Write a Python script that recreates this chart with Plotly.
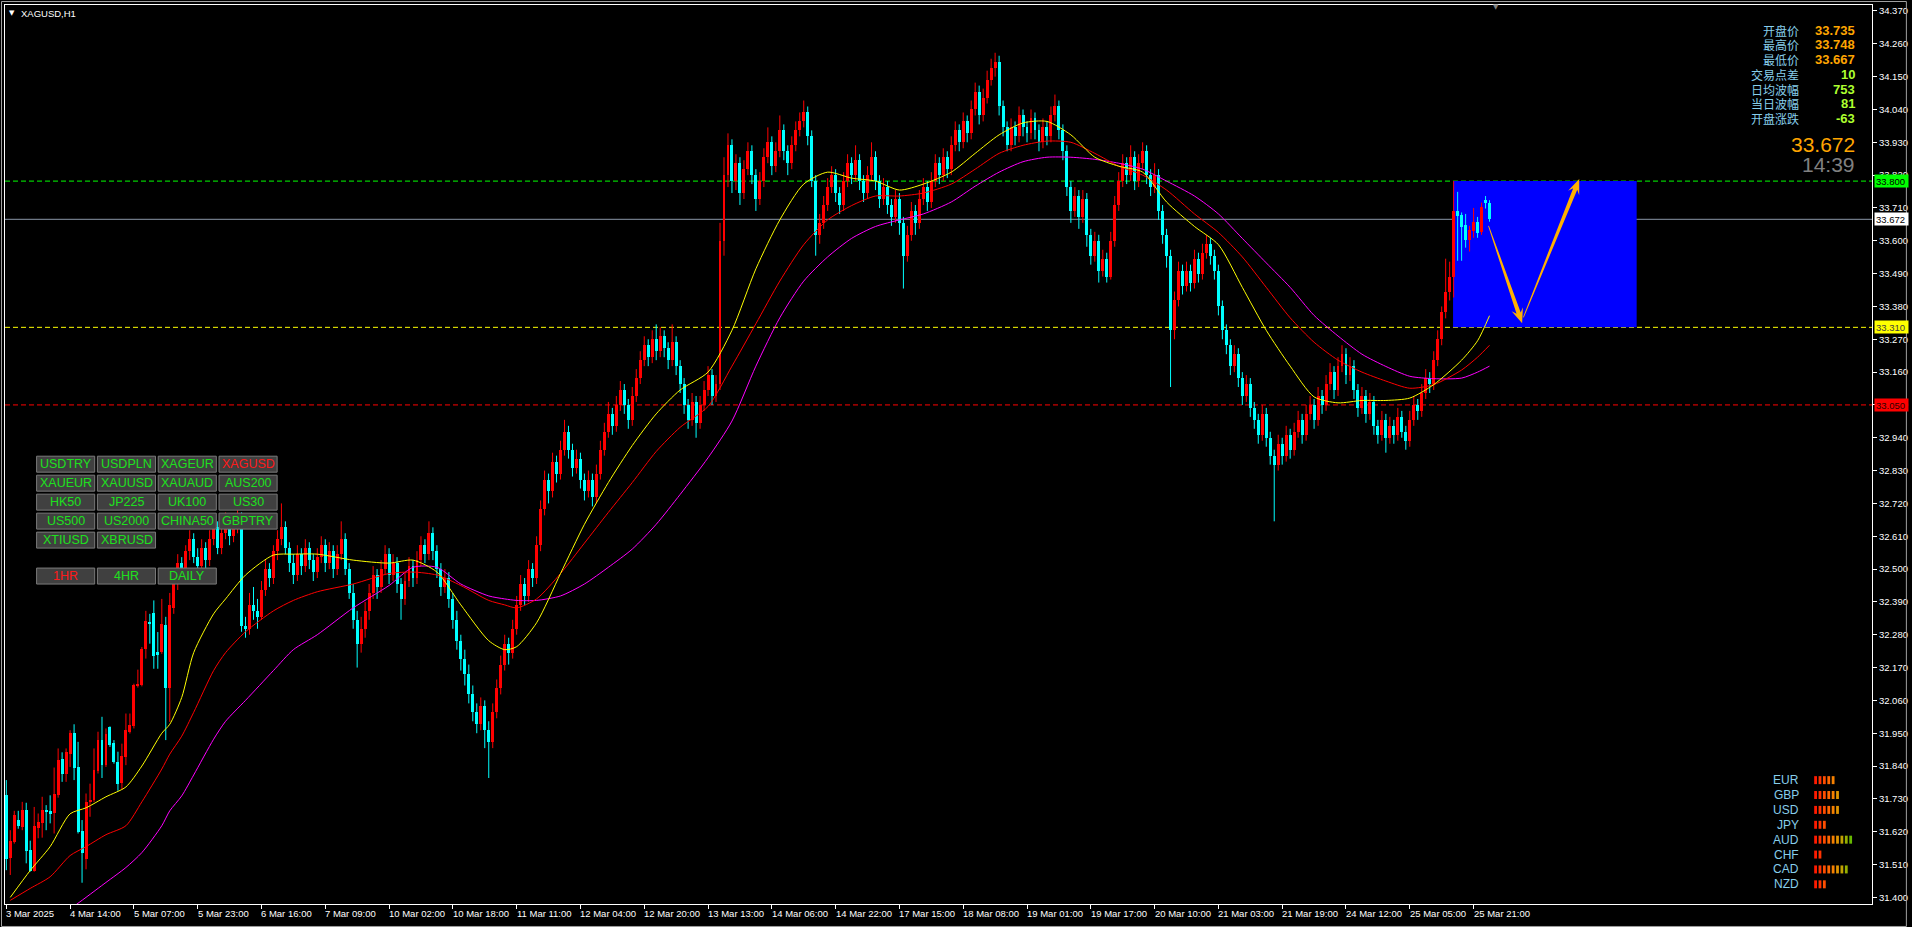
import math
import plotly.graph_objects as go

# ---------------- data ----------------
chart_title = "XAGUSD,H1"

x_tick_bars = [0, 16, 32, 48, 64, 80, 96, 112, 128, 144, 160, 176, 192, 208, 224, 240,
               256, 272, 288, 304, 320, 336, 352, 368]
x_tick_labels = ["3 Mar 2025", "4 Mar 14:00", "5 Mar 07:00", "5 Mar 23:00", "6 Mar 16:00",
                 "7 Mar 09:00", "10 Mar 02:00", "10 Mar 18:00", "11 Mar 11:00", "12 Mar 04:00",
                 "12 Mar 20:00", "13 Mar 13:00", "14 Mar 06:00", "14 Mar 22:00", "17 Mar 15:00",
                 "18 Mar 08:00", "19 Mar 01:00", "19 Mar 17:00", "20 Mar 10:00", "21 Mar 03:00",
                 "21 Mar 19:00", "24 Mar 12:00", "25 Mar 05:00", "25 Mar 21:00"]

y_tick_labels = ["31.400", "31.510", "31.620", "31.730", "31.840", "31.950", "32.060", "32.170",
                 "32.280", "32.390", "32.500", "32.610", "32.720", "32.830", "32.940", "33.050",
                 "33.160", "33.270", "33.380", "33.490", "33.600", "33.710", "33.820", "33.930",
                 "34.040", "34.150", "34.260", "34.370"]

opens = [
    31.742, 31.533, 31.586, 31.659, 31.636, 31.692, 31.558, 31.489, 31.631, 31.648,
    31.692, 31.690, 31.683, 31.742, 31.863, 31.815, 31.882, 31.951, 31.837, 31.623,
    31.530, 31.720, 31.726, 31.824, 31.927, 31.843, 31.971, 31.918, 31.854, 31.784,
    31.871, 31.955, 31.973, 32.107, 32.111, 32.233, 32.323, 32.353, 32.222, 32.222,
    32.311, 32.103, 32.37, 32.46, 32.52, 32.48, 32.56, 32.60, 32.54, 32.51,
    32.57, 32.53, 32.60, 32.64, 32.57, 32.62, 32.66, 32.61, 32.65, 32.66,
    32.31, 32.30, 32.38, 32.36, 32.34, 32.43, 32.50, 32.47, 32.56, 32.60,
    32.64, 32.57, 32.52, 32.48, 32.55, 32.51, 32.57, 32.53, 32.49, 32.54,
    32.58, 32.52, 32.56, 32.50, 32.55, 32.60, 32.50, 32.42, 32.33, 32.25,
    32.30, 32.36, 32.42, 32.48, 32.44, 32.50, 32.55, 32.48, 32.52, 32.45,
    32.40, 32.46, 32.51, 32.47, 32.53, 32.58, 32.55, 32.62, 32.56, 32.50,
    32.44, 32.47, 32.40, 32.33, 32.26, 32.20, 32.15, 32.08, 32.02, 31.98,
    32.04, 31.96, 31.92, 32.02, 32.10, 32.18, 32.25, 32.22, 32.30, 32.38,
    32.45, 32.41, 32.50, 32.47, 32.58, 32.70, 32.80, 32.76, 32.86, 32.82,
    32.90, 32.96, 32.90, 32.84, 32.87, 32.80, 32.76, 32.80, 32.74, 32.82,
    32.90, 32.96, 33.02, 32.98, 33.05, 33.10, 33.05, 33.00, 33.08, 33.14,
    33.20, 33.25, 33.21, 33.27, 33.23, 33.28, 33.24, 33.20, 33.26, 33.18,
    33.12, 33.05, 33.00, 33.06, 32.99, 33.05, 33.10, 33.15, 33.08, 33.12,
    33.60, 33.82, 33.92, 33.80, 33.86, 33.76, 33.84, 33.90, 33.82, 33.74,
    33.80, 33.88, 33.93, 33.85, 33.90, 33.97, 33.90, 33.86, 33.92, 33.97,
    34.00, 34.03, 33.95, 33.80, 33.62, 33.66, 33.72, 33.78, 33.82, 33.76,
    33.72, 33.80, 33.86, 33.82, 33.87, 33.80, 33.76, 33.82, 33.88, 33.80,
    33.74, 33.78, 33.72, 33.68, 33.74, 33.66, 33.55, 33.62, 33.70, 33.66,
    33.74, 33.78, 33.73, 33.80, 33.86, 33.82, 33.88, 33.84, 33.92, 33.97,
    33.93, 34.00, 33.96, 34.04, 34.10, 34.02, 34.08, 34.14, 34.18, 34.20,
    34.05, 33.98, 33.92, 33.98, 33.95, 34.02, 33.98, 33.96, 34.01, 33.97,
    33.93, 33.98, 33.95, 34.02, 34.05, 33.97, 33.90, 33.78, 33.70, 33.75,
    33.68, 33.74, 33.62, 33.55, 33.60, 33.50, 33.54, 33.48, 33.60, 33.72,
    33.80, 33.86, 33.82, 33.88, 33.80, 33.86, 33.90, 33.82, 33.78, 33.82,
    33.70, 33.62, 33.55, 33.30, 33.40, 33.50, 33.45, 33.50, 33.46, 33.54,
    33.49, 33.56, 33.59, 33.55, 33.50, 33.38, 33.30, 33.25, 33.18, 33.22,
    33.14, 33.08, 33.12, 33.04, 33.00, 32.95, 33.02, 32.94, 32.88, 32.85,
    32.92, 32.88, 32.95, 32.90, 32.96, 33.00, 32.95, 33.02, 33.05, 33.00,
    33.08, 33.05, 33.12, 33.16, 33.10, 33.18, 33.22, 33.15, 33.18, 33.10,
    33.04, 33.08, 33.02, 33.06, 32.98, 32.95, 33.00, 32.94, 32.98, 32.95,
    33.01, 32.96, 32.93, 33.00, 33.05, 33.03, 33.09, 33.14, 33.12, 33.20,
    33.27, 33.36, 33.43, 33.48, 33.70, 33.687, 33.653, 33.604, 33.634, 33.664,
    33.628, 33.736, 33.727]

highs = [
    31.793, 31.625, 31.690, 31.690, 31.720, 31.717, 31.590, 31.703, 31.681, 31.737,
    31.709, 31.742, 31.835, 31.899, 31.886, 31.899, 31.960, 31.980, 31.921, 31.659,
    31.748, 31.781, 31.899, 31.955, 32.005, 31.966, 31.973, 31.927, 31.888, 31.915,
    32.016, 32.016, 32.116, 32.163, 32.239, 32.360, 32.350, 32.395, 32.289, 32.400,
    32.340, 32.420, 32.48, 32.55, 32.54, 32.58, 32.63, 32.62, 32.57, 32.60,
    32.59, 32.63, 32.67, 32.66, 32.64, 32.69, 32.68, 32.67, 32.71, 32.69,
    32.34, 32.42, 32.44, 32.40, 32.46, 32.53, 32.52, 32.58, 32.63, 32.72,
    32.66, 32.59, 32.55, 32.58, 32.57, 32.60, 32.59, 32.55, 32.57, 32.61,
    32.60, 32.59, 32.58, 32.58, 32.66, 32.62, 32.52, 32.45, 32.36, 32.34,
    32.39, 32.45, 32.51, 32.50, 32.53, 32.58, 32.57, 32.55, 32.54, 32.47,
    32.49, 32.54, 32.53, 32.56, 32.61, 32.60, 32.66, 32.64, 32.58, 32.52,
    32.50, 32.49, 32.42, 32.36, 32.28, 32.23, 32.18, 32.11, 32.05, 32.07,
    32.06, 31.99, 32.05, 32.13, 32.21, 32.28, 32.27, 32.33, 32.41, 32.48,
    32.47, 32.53, 32.52, 32.61, 32.73, 32.83, 32.82, 32.89, 32.88, 32.93,
    33.00, 32.98, 32.92, 32.90, 32.89, 32.82, 32.83, 32.82, 32.85, 32.93,
    32.99, 33.06, 33.04, 33.08, 33.13, 33.12, 33.07, 33.11, 33.17, 33.23,
    33.28, 33.27, 33.30, 33.32, 33.31, 33.30, 33.26, 33.32, 33.28, 33.20,
    33.14, 33.07, 33.09, 33.08, 33.08, 33.13, 33.18, 33.17, 33.15, 33.66,
    33.88, 33.96, 33.94, 33.89, 33.88, 33.87, 33.93, 33.92, 33.84, 33.83,
    33.91, 33.98, 33.95, 33.93, 34.02, 33.99, 33.92, 33.95, 34.00, 34.03,
    34.07, 34.05, 33.97, 33.82, 33.69, 33.75, 33.81, 33.85, 33.84, 33.78,
    33.83, 33.89, 33.88, 33.92, 33.89, 33.82, 33.85, 33.93, 33.90, 33.82,
    33.81, 33.80, 33.74, 33.77, 33.76, 33.68, 33.65, 33.73, 33.72, 33.77,
    33.81, 33.80, 33.83, 33.89, 33.88, 33.91, 33.90, 33.95, 34.00, 33.99,
    34.03, 34.02, 34.07, 34.13, 34.12, 34.11, 34.17, 34.21, 34.23, 34.22,
    34.07, 34.00, 34.01, 34.00, 34.05, 34.04, 34.00, 34.04, 34.03, 33.99,
    34.01, 34.00, 34.05, 34.09, 34.07, 33.99, 33.92, 33.80, 33.78, 33.77,
    33.77, 33.76, 33.64, 33.63, 33.62, 33.57, 33.56, 33.63, 33.75, 33.83,
    33.89, 33.88, 33.92, 33.90, 33.89, 33.93, 33.92, 33.84, 33.86, 33.84,
    33.72, 33.64, 33.57, 33.43, 33.53, 33.52, 33.53, 33.52, 33.57, 33.56,
    33.59, 33.62, 33.61, 33.57, 33.52, 33.40, 33.32, 33.27, 33.25, 33.24,
    33.16, 33.15, 33.14, 33.06, 33.02, 33.05, 33.04, 32.96, 32.90, 32.95,
    32.94, 32.98, 32.97, 32.99, 33.03, 33.02, 33.05, 33.08, 33.07, 33.11,
    33.10, 33.15, 33.19, 33.18, 33.21, 33.25, 33.24, 33.21, 33.20, 33.12,
    33.11, 33.10, 33.09, 33.08, 33.00, 33.03, 33.02, 33.01, 33.00, 33.04,
    33.03, 32.98, 33.03, 33.08, 33.07, 33.12, 33.17, 33.16, 33.23, 33.30,
    33.38, 33.54, 33.53, 33.80, 33.764, 33.695, 33.69, 33.65, 33.71, 33.68,
    33.728, 33.75, 33.736]

lows = [
    31.491, 31.475, 31.580, 31.630, 31.625, 31.514, 31.486, 31.486, 31.598, 31.600,
    31.625, 31.648, 31.614, 31.734, 31.787, 31.787, 31.837, 31.793, 31.614, 31.449,
    31.494, 31.670, 31.720, 31.815, 31.800, 31.837, 31.904, 31.848, 31.757, 31.761,
    31.843, 31.949, 31.966, 32.103, 32.107, 32.200, 32.250, 32.166, 32.166, 32.216,
    31.927, 31.988, 32.35, 32.43, 32.45, 32.46, 32.53, 32.52, 32.49, 32.50,
    32.50, 32.51, 32.58, 32.55, 32.55, 32.60, 32.58, 32.59, 32.62, 32.29,
    32.27, 32.28, 32.33, 32.30, 32.33, 32.41, 32.44, 32.45, 32.53, 32.58,
    32.55, 32.49, 32.45, 32.46, 32.48, 32.49, 32.50, 32.46, 32.47, 32.52,
    32.49, 32.50, 32.47, 32.48, 32.53, 32.48, 32.40, 32.30, 32.17, 32.22,
    32.27, 32.33, 32.40, 32.40, 32.42, 32.48, 32.45, 32.46, 32.42, 32.33,
    32.38, 32.44, 32.44, 32.45, 32.51, 32.52, 32.53, 32.53, 32.47, 32.41,
    32.42, 32.37, 32.30, 32.23, 32.16, 32.11, 32.05, 31.99, 31.95, 31.96,
    31.90, 31.80, 31.90, 32.00, 32.08, 32.16, 32.18, 32.20, 32.28, 32.36,
    32.38, 32.39, 32.44, 32.45, 32.56, 32.68, 32.72, 32.74, 32.79, 32.80,
    32.88, 32.87, 32.81, 32.82, 32.77, 32.73, 32.74, 32.71, 32.72, 32.80,
    32.88, 32.94, 32.95, 32.96, 33.03, 33.02, 32.97, 32.98, 33.06, 33.12,
    33.18, 33.18, 33.19, 33.20, 33.21, 33.21, 33.17, 33.18, 33.15, 33.09,
    33.02, 32.97, 32.98, 32.94, 32.97, 33.03, 33.08, 33.05, 33.06, 33.10,
    33.55, 33.78, 33.76, 33.77, 33.72, 33.74, 33.82, 33.79, 33.70, 33.72,
    33.78, 33.86, 33.82, 33.83, 33.88, 33.87, 33.82, 33.84, 33.90, 33.95,
    33.98, 33.92, 33.78, 33.55, 33.59, 33.64, 33.70, 33.76, 33.73, 33.69,
    33.70, 33.78, 33.79, 33.80, 33.77, 33.73, 33.74, 33.80, 33.77, 33.71,
    33.72, 33.69, 33.65, 33.66, 33.62, 33.44, 33.53, 33.60, 33.62, 33.64,
    33.72, 33.70, 33.71, 33.78, 33.79, 33.80, 33.81, 33.82, 33.90, 33.90,
    33.91, 33.93, 33.94, 34.02, 33.99, 34.00, 34.06, 34.12, 34.15, 34.02,
    33.95, 33.90, 33.90, 33.92, 33.93, 33.95, 33.93, 33.94, 33.94, 33.90,
    33.91, 33.92, 33.93, 34.00, 33.94, 33.87, 33.75, 33.66, 33.68, 33.64,
    33.66, 33.58, 33.52, 33.53, 33.46, 33.48, 33.46, 33.47, 33.58, 33.70,
    33.78, 33.79, 33.80, 33.77, 33.78, 33.84, 33.79, 33.75, 33.76, 33.67,
    33.59, 33.51, 33.11, 33.27, 33.38, 33.42, 33.43, 33.43, 33.44, 33.46,
    33.47, 33.54, 33.52, 33.47, 33.35, 33.27, 33.22, 33.15, 33.16, 33.11,
    33.05, 33.06, 33.01, 32.97, 32.92, 32.93, 32.91, 32.85, 32.66, 32.83,
    32.85, 32.86, 32.87, 32.88, 32.94, 32.92, 32.93, 33.00, 32.97, 32.98,
    33.02, 33.03, 33.10, 33.07, 33.08, 33.16, 33.12, 33.13, 33.07, 33.01,
    33.02, 32.99, 33.00, 32.95, 32.92, 32.93, 32.89, 32.92, 32.92, 32.93,
    32.94, 32.90, 32.91, 32.98, 33.00, 33.01, 33.07, 33.09, 33.10, 33.18,
    33.25, 33.34, 33.40, 33.41, 33.533, 33.533, 33.577, 33.564, 33.61, 33.61,
    33.62, 33.708, 33.664]

closes = [
    31.530, 31.590, 31.676, 31.640, 31.692, 31.556, 31.489, 31.639, 31.653, 31.692,
    31.685, 31.680, 31.746, 31.860, 31.815, 31.887, 31.951, 31.834, 31.620, 31.547,
    31.720, 31.726, 31.826, 31.927, 31.843, 31.949, 31.910, 31.854, 31.779, 31.873,
    31.960, 31.977, 32.111, 32.114, 32.233, 32.325, 32.315, 32.208, 32.211, 32.315,
    32.100, 32.379, 32.46, 32.52, 32.48, 32.56, 32.60, 32.54, 32.51, 32.57,
    32.53, 32.60, 32.64, 32.57, 32.62, 32.66, 32.61, 32.65, 32.68, 32.31,
    32.30, 32.38, 32.36, 32.34, 32.43, 32.50, 32.47, 32.56, 32.60, 32.64,
    32.57, 32.52, 32.48, 32.55, 32.51, 32.57, 32.53, 32.49, 32.54, 32.58,
    32.52, 32.56, 32.50, 32.55, 32.60, 32.50, 32.42, 32.33, 32.25, 32.30,
    32.36, 32.42, 32.48, 32.44, 32.50, 32.55, 32.48, 32.52, 32.45, 32.40,
    32.46, 32.51, 32.47, 32.53, 32.58, 32.55, 32.62, 32.56, 32.50, 32.44,
    32.47, 32.40, 32.33, 32.26, 32.20, 32.15, 32.08, 32.02, 31.98, 32.04,
    31.96, 31.92, 32.02, 32.10, 32.18, 32.25, 32.22, 32.30, 32.38, 32.45,
    32.41, 32.50, 32.47, 32.58, 32.70, 32.80, 32.76, 32.86, 32.82, 32.90,
    32.96, 32.90, 32.84, 32.87, 32.80, 32.76, 32.80, 32.74, 32.82, 32.90,
    32.96, 33.02, 32.98, 33.05, 33.10, 33.05, 33.00, 33.08, 33.14, 33.20,
    33.25, 33.21, 33.27, 33.23, 33.28, 33.24, 33.20, 33.26, 33.18, 33.12,
    33.05, 33.00, 33.06, 32.99, 33.05, 33.10, 33.15, 33.08, 33.12, 33.60,
    33.82, 33.92, 33.80, 33.86, 33.76, 33.84, 33.90, 33.82, 33.74, 33.80,
    33.88, 33.93, 33.85, 33.90, 33.97, 33.90, 33.86, 33.92, 33.97, 34.00,
    34.03, 33.95, 33.80, 33.62, 33.66, 33.72, 33.78, 33.82, 33.76, 33.72,
    33.80, 33.86, 33.82, 33.87, 33.80, 33.76, 33.82, 33.88, 33.80, 33.74,
    33.78, 33.72, 33.68, 33.74, 33.66, 33.55, 33.62, 33.70, 33.66, 33.74,
    33.78, 33.73, 33.80, 33.86, 33.82, 33.88, 33.84, 33.92, 33.97, 33.93,
    34.00, 33.96, 34.04, 34.10, 34.02, 34.08, 34.14, 34.18, 34.20, 34.05,
    33.98, 33.92, 33.98, 33.95, 34.02, 33.98, 33.96, 34.01, 33.97, 33.93,
    33.98, 33.95, 34.02, 34.05, 33.97, 33.90, 33.78, 33.70, 33.75, 33.68,
    33.74, 33.62, 33.55, 33.60, 33.50, 33.54, 33.48, 33.60, 33.72, 33.80,
    33.86, 33.82, 33.88, 33.80, 33.86, 33.90, 33.82, 33.78, 33.82, 33.70,
    33.62, 33.55, 33.30, 33.40, 33.50, 33.45, 33.50, 33.46, 33.54, 33.49,
    33.56, 33.59, 33.55, 33.50, 33.38, 33.30, 33.25, 33.18, 33.22, 33.14,
    33.08, 33.12, 33.04, 33.00, 32.95, 33.02, 32.94, 32.88, 32.85, 32.92,
    32.88, 32.95, 32.90, 32.96, 33.00, 32.95, 33.02, 33.05, 33.00, 33.08,
    33.05, 33.12, 33.16, 33.10, 33.18, 33.22, 33.15, 33.18, 33.10, 33.04,
    33.08, 33.02, 33.06, 32.98, 32.95, 33.00, 32.94, 32.98, 32.95, 33.01,
    32.96, 32.93, 33.00, 33.05, 33.03, 33.09, 33.14, 33.12, 33.20, 33.27,
    33.36, 33.43, 33.48, 33.70, 33.684, 33.647, 33.604, 33.637, 33.664, 33.625,
    33.714, 33.725, 33.672]

# moving averages at these bar positions
ma_bars = [1, 6, 11, 16, 20, 25, 30, 34, 39, 41, 44, 47, 52, 55, 60, 67, 72, 78, 87, 96,
           102, 108, 114, 121, 125, 128, 133, 139, 145, 151, 157, 163, 169, 176, 182, 188,
           194, 200, 206, 212, 218, 224, 230, 237, 243, 249, 255, 261, 267, 273, 279, 285,
           291, 298, 304, 310, 316, 322, 328, 334, 340, 346, 352, 358, 365, 369, 372]
ma_yellow = [31.40, 31.49, 31.57, 31.68, 31.70, 31.737, 31.77, 31.84, 31.95, 31.98,
             32.07, 32.22, 32.35, 32.40, 32.48, 32.547, 32.55, 32.55, 32.53, 32.52,
             32.53, 32.49, 32.38, 32.26, 32.23, 32.24, 32.32, 32.485, 32.65, 32.79,
             32.914, 33.02, 33.10, 33.16, 33.30, 33.506, 33.67, 33.79, 33.83, 33.81,
             33.80, 33.77, 33.79, 33.83, 33.893, 33.955, 33.995, 34.00, 33.955, 33.88,
             33.85, 33.83, 33.73, 33.648, 33.587, 33.444, 33.30, 33.18, 33.077, 33.057,
             33.065, 33.065, 33.073, 33.118, 33.20, 33.265, 33.349]
ma_red = [31.39, 31.43, 31.469, 31.54, 31.57, 31.61, 31.64, 31.72, 31.83, 31.88,
          31.94, 32.02, 32.16, 32.22, 32.29, 32.36, 32.395, 32.424, 32.45, 32.485,
          32.49, 32.48, 32.445, 32.395, 32.38, 32.37, 32.40, 32.485, 32.587, 32.69,
          32.79, 32.894, 32.975, 33.045, 33.18, 33.322, 33.465, 33.587, 33.67, 33.718,
          33.75, 33.75, 33.76, 33.79, 33.84, 33.893, 33.92, 33.934, 33.93, 33.893,
          33.85, 33.82, 33.77, 33.69, 33.628, 33.546, 33.444, 33.342, 33.26, 33.20,
          33.16, 33.13, 33.106, 33.118, 33.167, 33.21, 33.25]
ma_magenta = [31.20, 31.25, 31.30, 31.36, 31.40, 31.45, 31.50, 31.55, 31.64, 31.69,
              31.74, 31.81, 31.93, 31.99, 32.06, 32.16, 32.23, 32.28, 32.37, 32.445,
              32.506, 32.506, 32.45, 32.41, 32.40, 32.395, 32.395, 32.41, 32.45, 32.506,
              32.567, 32.65, 32.75, 32.873, 32.996, 33.18, 33.342, 33.465, 33.546, 33.608,
              33.648, 33.67, 33.69, 33.73, 33.783, 33.83, 33.865, 33.88, 33.88, 33.873,
              33.86, 33.84, 33.80, 33.75, 33.69, 33.608, 33.526, 33.444, 33.35, 33.281,
              33.22, 33.179, 33.146, 33.138, 33.14, 33.16, 33.18]

level_prices = [33.800, 33.672, 33.310, 33.050]
level_texts = ["33.800", "33.672", "33.310", "33.050"]

box_bars = [362.85, 408.9]
box_prices = [33.310, 33.800]
arrow1 = [(371.75, 33.650), (380.18, 33.3234)]
arrow2 = [(380.5, 33.3435), (394.5, 33.807)]

info_labels = ["开盘价", "最高价", "最低价", "交易点差", "日均波幅", "当日波幅", "开盘涨跌"]
info_values = ["33.735", "33.748", "33.667", "10", "753", "81", "-63"]
last_price = "33.672"
bar_timer = "14:39"

button_rows = [["USDTRY", "USDPLN", "XAGEUR", "XAGUSD"],
               ["XAUEUR", "XAUUSD", "XAUAUD", "AUS200"],
               ["HK50", "JP225", "UK100", "US30"],
               ["US500", "US2000", "CHINA50", "GBPTRY"],
               ["XTIUSD", "XBRUSD"]]
tf_buttons = ["1HR", "4HR", "DAILY"]
active_buttons = ["XAGUSD", "1HR"]

currencies = ["EUR", "GBP", "USD", "JPY", "AUD", "CHF", "CAD", "NZD"]
strength = [5, 6, 6, 3, 9, 2, 8, 3]

# ---------------- geometry / style ----------------
W, H = 1912, 927
PL, PR, PT, PB = 4, 1877, 4, 904
X_LO, X_HI = -0.325, 467.925
Y_LO, Y_HI = 31.37776, 34.39008
FONT = "Liberation Sans"
CJK = "Noto Sans CJK SC"
BULL, BEAR = "#FF0000", "#00FFFF"


def fx(px):
    return (px - PL) / (PR - PL)


def fy(py):
    return (PB - py) / (PB - PT)


def d2px(i, p):
    return (PL + (i - X_LO) / (X_HI - X_LO) * (PR - PL),
            PB - (p - Y_LO) / (Y_HI - Y_LO) * (PB - PT))


def px2d(x, y):
    return (X_LO + (x - PL) / (PR - PL) * (X_HI - X_LO),
            Y_LO + (PB - y) / (PB - PT) * (Y_HI - Y_LO))


def arrow_path(start, end, w0=0.4, w1=2.2, hl=15.0, hw=6.0):
    x0, y0 = d2px(*start)
    x1, y1 = d2px(*end)
    L = math.hypot(x1 - x0, y1 - y0)
    ux, uy = (x1 - x0) / L, (y1 - y0) / L
    nx, ny = -uy, ux
    bx, by = x1 - ux * hl, y1 - uy * hl
    kx, ky = x1 - ux * hl * 0.72, y1 - uy * hl * 0.72
    pts = [(x0 + nx * w0, y0 + ny * w0), (kx + nx * w1, ky + ny * w1),
           (bx + nx * hw, by + ny * hw), (x1, y1), (bx - nx * hw, by - ny * hw),
           (kx - nx * w1, ky - ny * w1), (x0 - nx * w0, y0 - ny * w0)]
    d = [px2d(a, b) for a, b in pts]
    return "M " + " L ".join(f"{a:.4f},{b:.5f}" for a, b in d) + " Z"


n = len(closes)
assert len(opens) == n and len(highs) == n and len(lows) == n, (len(opens), len(highs), len(lows), n)

fig = go.Figure()

# candle bodies and wicks
for is_bull, col in ((True, BULL), (False, BEAR)):
    idx = [i for i in range(n) if (closes[i] >= opens[i]) == is_bull]
    fig.add_trace(go.Bar(
        x=idx,
        y=[max(abs(closes[i] - opens[i]), 0.0016) for i in idx],
        base=[min(closes[i], opens[i]) for i in idx],
        width=0.74, marker=dict(color=col, line=dict(width=0)),
        hoverinfo="skip", showlegend=False))
    wx, wy = [], []
    for i in idx:
        wx += [i, i, None]
        wy += [lows[i], highs[i], None]
    fig.add_trace(go.Scatter(x=wx, y=wy, mode="lines", line=dict(color=col, width=1),
                             hoverinfo="skip", showlegend=False))

# moving averages
for vals, col in ((ma_magenta, "#FF00FF"), (ma_red, "#FF0000"), (ma_yellow, "#FFFF00")):
    fig.add_trace(go.Scatter(x=ma_bars, y=vals, mode="lines",
                             line=dict(color=col, width=1, shape="spline", smoothing=0.7),
                             hoverinfo="skip", showlegend=False))

shapes = []
annotations = []

# blue target box
shapes.append(dict(type="rect", xref="x", yref="y", x0=box_bars[0], x1=box_bars[1],
                   y0=box_prices[0], y1=box_prices[1], fillcolor="#0000FF",
                   line=dict(width=0), layer="below"))

# horizontal levels
level_colors = ["#00FF00", "#8A96A8", "#FFFF00", "#FF0000"]
level_dash = ["5px,3px", "solid", "5px,3px", "5px,3px"]
label_bg = ["#00FF00", "#FFFFFF", "#FFFF00", "#FF0000"]
label_fg = ["#000000", "#000000", "#404040", "#300000"]
for p, c, dsh, t, bg, fg in zip(level_prices, level_colors, level_dash, level_texts, label_bg, label_fg):
    shapes.append(dict(type="line", xref="paper", yref="y", x0=0, x1=1, y0=p, y1=p,
                       line=dict(color=c, width=1, dash=dsh), layer="below"))
    annotations.append(dict(xref="paper", yref="y", x=1, y=p, xanchor="left", yanchor="middle",
                            xshift=2, text=t, showarrow=False, bgcolor=bg, borderpad=1,
                            width=31, height=10, align="left",
                            font=dict(family=FONT, size=9.5, color=fg)))

# forecast arrows
for a in (arrow1, arrow2):
    shapes.append(dict(type="path", xref="x", yref="y", path=arrow_path(*a),
                       fillcolor="#FFB000", line=dict(width=0), layer="above"))

# x-axis labels (left-aligned at the tick like MT4)
for b, t in zip(x_tick_bars, x_tick_labels):
    annotations.append(dict(xref="x", yref="paper", x=b, y=0, xanchor="left", yanchor="top",
                            xshift=-2, yshift=-2, text=t, showarrow=False,
                            font=dict(family=FONT, size=9.5, color="#FFFFFF")))

# title
annotations.append(dict(xref="paper", yref="paper", x=fx(11.5), y=fy(12), xanchor="center",
                        yanchor="middle", text="▼", showarrow=False,
                        font=dict(family="DejaVu Sans", size=7, color="#FFFFFF")))
annotations.append(dict(xref="paper", yref="paper", x=fx(18), y=fy(12.5), xanchor="left",
                        yanchor="middle", text=chart_title, showarrow=False,
                        font=dict(family=FONT, size=9.5, color="#FFFFFF")))
# chart shift marker
annotations.append(dict(xref="paper", yref="paper", x=fx(1500), y=fy(6), xanchor="center",
                        yanchor="middle", text="▼", showarrow=False,
                        font=dict(family="DejaVu Sans", size=7, color="#808080")))

# info panel
row_y = [29.3, 43.8, 58.6, 73.4, 88.2, 103.0, 117.8]
for k, (lab, val) in enumerate(zip(info_labels, info_values)):
    annotations.append(dict(xref="paper", yref="paper", x=fx(1806), y=fy(row_y[k]),
                            xanchor="right", yanchor="middle", text=lab, showarrow=False,
                            font=dict(family=CJK, size=12, color="#87CEEB")))
    vcol = "#FFA500" if k < 3 else "#ADFF2F"
    annotations.append(dict(xref="paper", yref="paper", x=fx(1862), y=fy(row_y[k]),
                            xanchor="right", yanchor="middle", text="<b>" + val + "</b>",
                            showarrow=False, font=dict(family=FONT, size=13, color=vcol)))
annotations.append(dict(xref="paper", yref="paper", x=fx(1862), y=fy(144), xanchor="right",
                        yanchor="middle", text=last_price, showarrow=False,
                        font=dict(family=FONT, size=21, color="#FFA500")))
annotations.append(dict(xref="paper", yref="paper", x=fx(1862), y=fy(164), xanchor="right",
                        yanchor="middle", text=bar_timer, showarrow=False,
                        font=dict(family=FONT, size=21, color="#808080")))


# symbol buttons
def add_button(x0, y0, text):
    shapes.append(dict(type="rect", xref="paper", yref="paper", x0=fx(x0), x1=fx(x0 + 58.3),
                       y0=fy(y0 + 16), y1=fy(y0), fillcolor="#404040",
                       line=dict(color="#7A7A7A", width=1), layer="above"))
    col = "#FF1A1A" if text in active_buttons else "#1EE01E"
    annotations.append(dict(xref="paper", yref="paper", x=fx(x0 + 29.2), y=fy(y0 + 8.3),
                            xanchor="center", yanchor="middle", text=text, showarrow=False,
                            font=dict(family=FONT, size=12.5, color=col)))


for r, row in enumerate(button_rows):
    for c, t in enumerate(row):
        add_button(35.7 + 61 * c, 455.7 + 19 * r, t)
for c, t in enumerate(tf_buttons):
    add_button(35.7 + 61 * c, 567.7, t)

# currency strength panel
palette = ["#FF1A00", "#FF3300", "#FF4D00", "#FF6600", "#F58000", "#E09500",
           "#C2A300", "#96B000", "#66B800"]
for k, (cur, s) in enumerate(zip(currencies, strength)):
    yc = 780 + 14.9 * k
    annotations.append(dict(xref="paper", yref="paper", x=fx(1806), y=fy(yc), xanchor="right",
                            yanchor="middle", text=cur, showarrow=False,
                            font=dict(family=FONT, size=12, color="#87CEEB")))
    for j in range(s):
        xs0 = 1819 + 4.4 * j
        shapes.append(dict(type="rect", xref="paper", yref="paper", x0=fx(xs0), x1=fx(xs0 + 2.8),
                           y0=fy(yc + 4), y1=fy(yc - 4), fillcolor=palette[j],
                           line=dict(width=0), layer="above"))

# outer window frame
shapes.append(dict(type="rect", xref="paper", yref="paper", x0=fx(0.5), x1=fx(W - 0.5),
                   y0=fy(H - 0.5), y1=fy(0.5), line=dict(color="#A0A0A0", width=1),
                   fillcolor="rgba(0,0,0,0)", layer="above"))

fig.update_layout(
    width=W, height=H,
    margin=dict(l=PL, r=W - PR, t=PT, b=H - PB),
    paper_bgcolor="#000000", plot_bgcolor="#000000",
    barmode="overlay", bargap=0, showlegend=False, hovermode=False,
    shapes=shapes, annotations=annotations,
    xaxis=dict(range=[X_LO, X_HI], showgrid=False, zeroline=False,
               tickmode="array", tickvals=x_tick_bars, showticklabels=False,
               ticks="outside", ticklen=4, tickcolor="#FFFFFF", tickwidth=1,
               showline=True, mirror=True, linecolor="#FFFFFF", linewidth=1, fixedrange=True),
    yaxis=dict(range=[Y_LO, Y_HI], side="right", showgrid=False, zeroline=False,
               tickmode="array", tickvals=[float(v) for v in y_tick_labels],
               ticktext=y_tick_labels, ticks="outside", ticklen=4, tickcolor="#FFFFFF",
               tickwidth=1, tickfont=dict(family=FONT, size=9.5, color="#FFFFFF"),
               showline=True, mirror=True, linecolor="#FFFFFF", linewidth=1, fixedrange=True),
)

fig.write_html(
    "out.html",
    config={"displayModeBar": False},
    post_script="document.body.style.margin='0';document.body.style.padding='0';"
                "document.body.style.overflow='hidden';"
                "document.documentElement.style.overflow='hidden';"
                "document.body.style.background='#000';",
)
